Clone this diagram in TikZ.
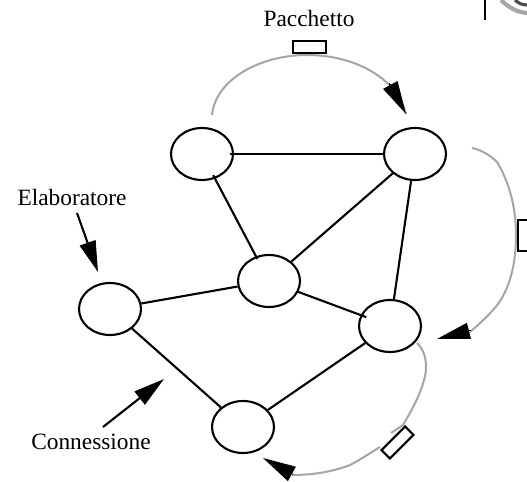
\documentclass[tikz,border=0pt]{standalone}
\usepackage{fontspec}
\setmainfont{Liberation Serif}
\usetikzlibrary{shapes.geometric,arrows.meta}
\definecolor{routegray}{HTML}{A6A6A6}
\tikzset{
	host/.style={draw, ellipse, line width=1.2pt, minimum width=1.24cm, minimum height=1.04cm, inner sep=0pt},
	link/.style={line width=1.2pt},
	route/.style={draw=routegray, line width=1.15pt},
	packet/.style={draw, line width=1.2pt, fill=white, minimum width=0.67cm, minimum height=0.24cm, inner sep=0pt},
	label/.style={font=\fontsize{13.3}{15}\selectfont, inner sep=0pt},
	bighead/.style={-{Triangle[length=0.66cm, width=0.33cm]}, line width=0pt},
	pointer/.style={-{Triangle[length=0.62cm, width=0.33cm]}, line width=1.2pt}
}
\begin{document}
\begin{tikzpicture}[x=0.02cm, y=-0.02cm]
			\useasboundingbox (0,0) rectangle (527,482);
			% Labels
			\node[label] at (309,19) (pacchetto) {Pacchetto};
			\node[label] at (72,198) (elaboratore) {Elaboratore};
			\node[label] at (91,442) (connessione) {Connessione};
			% Hosts
			\node[host] at (202,154) (hostA) {};
			\node[host] at (415,154) (hostB) {};
			\node[host] at (269,281) (hostC) {};
			\node[host] at (390,326) (hostD) {};
			\node[host] at (110,309) (hostE) {};
			\node[host] at (243,427) (hostF) {};
			% Links
			\draw[link, shorten <=-0.08cm] (hostA) -- (hostB);
			\draw[link, shorten <=-0.08cm, shorten >=-0.06cm] (hostA) -- (hostC);
			\draw[link] (hostB) -- (hostC);
			\draw[link] (hostB) -- (hostD);
			\draw[link, shorten >=-0.12cm] (hostC) -- (hostD);
			\draw[link] (hostC) -- (hostE);
			\draw[link] (hostE) -- (hostF);
			\draw[link] (hostD) -- (hostF);
			% Routes
			\draw[route] (212,115) .. controls (216,78) and (262,55) .. (307,55) .. controls (352,55) and (396,76) .. (406,114);
			\draw[route] (472,148) .. controls (482,150) and (491,156) .. (497,162) .. controls (508,180) and (516,205) .. (516,235) .. controls (516,270) and (507,295) .. (493,310) .. controls (486,318) and (478,325) .. (470,332);
			\draw[route] (417,343) .. controls (424,350) and (426,358) .. (426,367) .. controls (426,385) and (412,410) .. (403,425) -- (391,433);
			\draw[route] (380,447) .. controls (370,453) and (360,460) .. (350,465) .. controls (332,472) and (312,475) .. (292,475);
			% Arrow heads
			\draw[bighead] (389.5,83.5) -- (406,114);
			\draw[bighead] (470,330.5) -- (437,339);
			\draw[bighead] (292,474) -- (263,458);
			% Packets
			\node[packet] at (309.5,47) (packetA) {};
			\node[packet, rotate=90, minimum width=0.62cm, minimum height=0.62cm] at (533.5,235.5) (packetB) {};
			\node[packet, rotate=45] at (397.5,442.5) (packetC) {};
			% Pointers
			\coordinate (elabstart) at (77,213);
			\coordinate (elabtip) at (98,272);
			\coordinate (connstart) at (103,427);
			\coordinate (conntip) at (164,379);
			\draw[pointer] (elabstart) -- (elabtip);
			\draw[pointer] (connstart) -- (conntip);
			% Corner
			\draw[line width=1pt] (485,0) -- (485,20);
			\draw[routegray, line width=2.4pt] (501,0) .. controls (508,7) and (516,12) .. (527,13);
			\draw[black!70, line width=1.8pt] (515,0) .. controls (518,3) and (522,5) .. (527,5);
		\end{tikzpicture}
\end{document}
